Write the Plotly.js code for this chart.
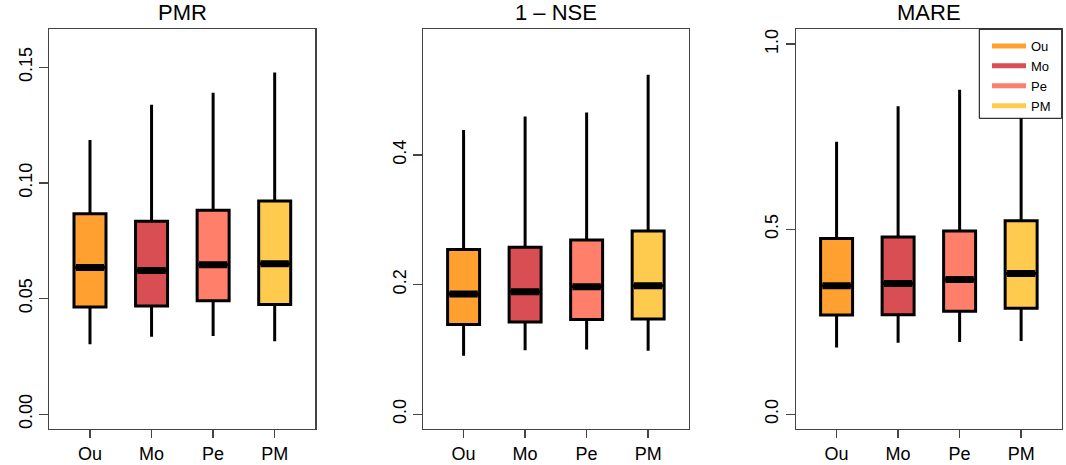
<!DOCTYPE html>
<html>
<head>
<meta charset="utf-8">
<script src="https://cdn.plot.ly/plotly-3.0.1.min.js"></script>
<style>html,body{margin:0;padding:0;background:#fff}#chart{width:1066px;height:465px}</style>
</head>
<body>
<div id="chart"></div>
<script>
// Data
const categories = ["Ou", "Mo", "Pe", "PM"];
const colors = ["#FFA031", "#D84E52", "#FF7F6B", "#FFCB4F"];
const panelTitles = ["PMR", "1 \u2013 NSE", "MARE"];

// PMR
const pmrMin    = [0.0302, 0.0335, 0.0338, 0.0315];
const pmrQ1     = [0.0463, 0.0468, 0.0490, 0.0474];
const pmrMedian = [0.0634, 0.0621, 0.0646, 0.0650];
const pmrQ3     = [0.0867, 0.0834, 0.0882, 0.0922];
const pmrMax    = [0.1185, 0.1338, 0.1390, 0.1477];

// 1 - NSE
const nseMin    = [0.0901, 0.0988, 0.0999, 0.0978];
const nseQ1     = [0.1385, 0.1421, 0.1462, 0.1467];
const nseMedian = [0.1853, 0.1889, 0.1966, 0.1982];
const nseQ3     = [0.2543, 0.2574, 0.2687, 0.2826];
const nseMax    = [0.4386, 0.4592, 0.4654, 0.5236];

// MARE
const mareMin    = [0.180, 0.193, 0.195, 0.198];
const mareQ1     = [0.268, 0.269, 0.278, 0.286];
const mareMedian = [0.347, 0.353, 0.364, 0.380];
const mareQ3     = [0.475, 0.479, 0.495, 0.523];
const mareMax    = [0.736, 0.832, 0.877, 0.930];

// Tick labels
const yTickVals = [[0, 0.05, 0.10, 0.15], [0, 0.2, 0.4], [0, 0.5, 1.0]];
const yTickText = [["0.00", "0.05", "0.10", "0.15"], ["0.0", "0.2", "0.4"], ["0.0", "0.5", "1.0"]];
const yRanges = [[-0.0064, 0.1664], [-0.0229, 0.5939], [-0.04, 1.04]];

const panels = [
  {min: pmrMin, q1: pmrQ1, med: pmrMedian, q3: pmrQ3, max: pmrMax},
  {min: nseMin, q1: nseQ1, med: nseMedian, q3: nseQ3, max: nseMax},
  {min: mareMin, q1: mareQ1, med: mareMedian, q3: mareQ3, max: mareMax}
];

const boxW = 0.52;
const traces = [];
panels.forEach((p, pi) => {
  const xa = pi === 0 ? "x" : "x" + (pi + 1);
  const ya = pi === 0 ? "y" : "y" + (pi + 1);
  categories.forEach((c, i) => {
    traces.push({
      type: "box", xaxis: xa, yaxis: ya, name: c, showlegend: false,
      x: [i + 1], q1: [p.q1[i]], median: [p.med[i]], q3: [p.q3[i]],
      lowerfence: [p.min[i]], upperfence: [p.max[i]],
      width: boxW, whiskerwidth: 0,
      fillcolor: colors[i], line: {color: "#000", width: 3},
      hoverinfo: "skip", boxpoints: false
    });
    // thick median bar
    traces.push({
      type: "scatter", mode: "lines", xaxis: xa, yaxis: ya, showlegend: false,
      x: [i + 1 - boxW / 2 + 0.03, i + 1 + boxW / 2 - 0.03], y: [p.med[i], p.med[i]],
      line: {color: "#000", width: 7}, hoverinfo: "skip"
    });
  });
});
// legend entries
categories.forEach((c, i) => {
  traces.push({
    type: "scatter", mode: "lines", xaxis: "x3", yaxis: "y3", name: c,
    x: [null], y: [null], line: {color: colors[i], width: 5}, showlegend: true
  });
});

const font = {family: "Liberation Sans, Arial, sans-serif", color: "#000"};
const doms = [[0.0463, 0.2958], [0.3968, 0.6461], [0.7467, 0.9960]];
const yDom = [0.0774, 0.937];
const layout = {
  width: 1066, height: 465,
  margin: {l: 0, r: 0, t: 0, b: 0},
  paper_bgcolor: "#fff", plot_bgcolor: "#fff",
  font: font,
  showlegend: true,
  legend: {
    x: 987 / 1066, xanchor: "left", y: 1 - 31 / 465, yanchor: "top",
    bgcolor: "rgba(0,0,0,0)", borderwidth: 0,
    font: {family: font.family, size: 13, color: "#000"},
    tracegroupgap: 0, itemwidth: 34
  },
  shapes: [{
    type: "rect", xref: "paper", yref: "paper", layer: "above",
    x0: 979.3 / 1066, x1: 0.996, y0: 1 - 118.3 / 465, y1: 0.937,
    fillcolor: "#fff", line: {color: "#000", width: 1}
  }],
  annotations: panelTitles.map((t, i) => ({
    text: t, xref: "paper", yref: "paper",
    x: (doms[i][0] + doms[i][1]) / 2, y: yDom[1] + 0.004,
    xanchor: "center", yanchor: "bottom", showarrow: false,
    font: {family: font.family, size: 22, color: "#000"}
  }))
};
for (let i = 0; i < 3; i++) {
  const s = i === 0 ? "" : String(i + 1);
  layout["xaxis" + s] = {
    domain: doms[i], anchor: "y" + s, range: [0.34, 4.66],
    tickvals: [1, 2, 3, 4], ticktext: categories,
    ticks: "outside", ticklen: 8, tickwidth: 1.3, tickcolor: "#444",
    showline: true, linecolor: "#444", linewidth: 1.3, mirror: true,
    showgrid: false, zeroline: false,
    tickfont: {family: font.family, size: 18, color: "#000"}
  };
  layout["yaxis" + s] = {
    domain: yDom, anchor: "x" + s, range: yRanges[i],
    tickvals: yTickVals[i], ticktext: yTickText[i], tickangle: -90,
    ticks: "outside", ticklen: 9, tickwidth: 1.3, tickcolor: "#444",
    showline: true, linecolor: "#444", linewidth: 1.3, mirror: true,
    showgrid: false, zeroline: false,
    tickfont: {family: font.family, size: 18, color: "#000"}
  };
}
Plotly.newPlot("chart", traces, layout, {displayModeBar: false, staticPlot: true});
</script>
</body>
</html>
